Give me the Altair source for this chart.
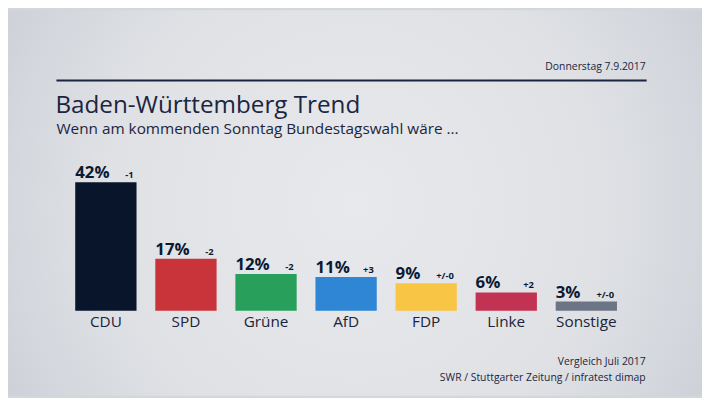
import altair as alt
import pandas as pd

parties = ["CDU", "SPD", "Grüne", "AfD", "FDP", "Linke", "Sonstige"]
values = [42, 17, 12, 11, 9, 6, 3]
changes = ["-1", "-2", "-2", "+3", "+/-0", "+2", "+/-0"]
colors = ["#08152a", "#c9333a", "#28a05b", "#2f86d4", "#f8c544", "#c23252", "#6c7586"]

title = "Baden-Württemberg Trend"
subtitle = "Wenn am kommenden Sonntag Bundestagswahl wäre ..."
date_text = "Donnerstag 7.9.2017"
note1 = "Vergleich Juli 2017"
note2 = "SWR / Stuttgarter Zeitung / infratest dimap"

W, H = 702, 390
NAVY = "#0b1a33"
FONT = "Open Sans"

df = pd.DataFrame({
    "party": parties,
    "value": values,
    "change": changes,
    "pct": [f"{v}%" for v in values],
})

xscale = alt.Scale(domain=parties, range=[68, 616], paddingInner=0.2346, paddingOuter=0)
yscale = alt.Scale(domain=[0, 42], range=[304, 174], nice=False, zero=True)
cscale = alt.Scale(domain=parties, range=colors)

base = alt.Chart(df)

bg = alt.Chart(pd.DataFrame({"a": [0]})).mark_rect(
    color={
        "gradient": "radial",
        "x1": 0.5, "y1": 0.5, "r1": 0.0,
        "x2": 0.5, "y2": 0.5, "r2": 0.72,
        "stops": [
            {"offset": 0, "color": "#e8e9ec"},
            {"offset": 0.5, "color": "#dfe1e5"},
            {"offset": 1, "color": "#c2c7cf"},
        ],
    }
).encode(x=alt.value(0), x2=alt.value(W), y=alt.value(0), y2=alt.value(H))

bars = base.mark_bar(cornerRadius=0).encode(
    x=alt.X("party:N", scale=xscale, axis=None, sort=parties),
    y=alt.Y("value:Q", scale=yscale, axis=None),
    color=alt.Color("party:N", scale=cscale, legend=None),
)

pct = base.mark_text(
    font=FONT, fontSize=17, fontWeight="bold", color=NAVY,
    align="left", baseline="alphabetic", dy=-4,
).encode(
    x=alt.X("party:N", scale=xscale, axis=None, sort=parties, bandPosition=0),
    y=alt.Y("value:Q", scale=yscale, axis=None),
    text="pct:N",
)

chg = base.mark_text(
    font=FONT, fontSize=9.5, fontWeight="bold", color=NAVY,
    align="right", baseline="alphabetic", dy=-4, dx=-3,
).encode(
    x=alt.X("party:N", scale=xscale, axis=None, sort=parties, bandPosition=1),
    y=alt.Y("value:Q", scale=yscale, axis=None),
    text="change:N",
)

cats = base.mark_text(
    font=FONT, fontSize=15.5, color="#1b2438", align="center", baseline="alphabetic",
).encode(
    x=alt.X("party:N", scale=xscale, axis=None, sort=parties, bandPosition=0.5),
    y=alt.value(320),
    text="party:N",
)

def label(txt, x, y, size, align="left", color=NAVY, weight="normal"):
    return alt.Chart(pd.DataFrame({"t": [txt]})).mark_text(
        font=FONT, fontSize=size, color=color, align=align, baseline="alphabetic",
        fontWeight=weight,
    ).encode(x=alt.value(x), y=alt.value(y), text="t:N")

rule = alt.Chart(pd.DataFrame({"a": [0]})).mark_rule(color="#1c2540", strokeWidth=2).encode(
    x=alt.value(49), x2=alt.value(646), y=alt.value(71)
)

chart = alt.layer(
    bg,
    rule,
    label(date_text, 645, 60, 10.5, align="right", color="#1c2540"),
    label(title, 48, 104, 24.5, color="#1c2540"),
    label(subtitle, 49, 125, 15.5, color="#1c2540"),
    bars, pct, chg, cats,
    label(note1, 645, 359, 10.5, align="right", color="#1c2540"),
    label(note2, 645, 375, 10.5, align="right", color="#1c2540"),
).properties(
    width=W, height=H,
    autosize=alt.AutoSizeParams(type="none"),
    padding=0,
    background="#d3d6db",
).configure_view(stroke=None)

chart.save("out.html", embed_options={"renderer": "svg", "actions": False})
